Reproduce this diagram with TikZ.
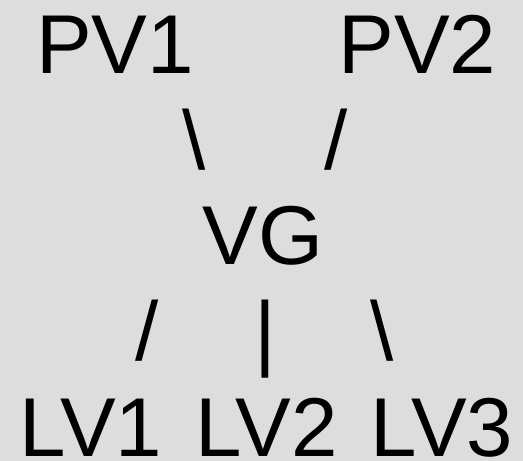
\documentclass[tikz,border=0pt]{standalone}
\usepackage{fontspec}
\setmainfont{Liberation Sans}
\usetikzlibrary{positioning}
\definecolor{bggrey}{HTML}{DDDDDD}

\begin{document}
\begin{tikzpicture}[
    x=1pt,
    y=-1pt,
    var node/.style={inner sep=0pt,anchor=base,font=\fontsize{83.5}{95}\selectfont},
    link node/.style={var node}
]

% Fondo
\fill[bggrey] (0,0) rectangle (523,461);

% Variables padre
\node[var node] (pvone) at (115,73) {PV1};
\node[var node] (pvtwo) at (417.5,73) {PV2};

% Enlaces superiores
\node[link node] (linkpvone) at (194.5,169) {\textbackslash};
\node[link node] (linkpvtwo) at (336.5,169) {/};

% Variable central
\node[var node] (vg) at (263,264) {VG};

% Enlaces inferiores
\node[link node] (linklvone) at (147.5,360.5) {/};
\node[link node] (linklvtwo) at (265.5,360.5) {|};
\node[link node] (linklvthree) at (382.5,360.5) {\textbackslash};

% Variables hijas
\node[var node] (lvone) at (91,456) {LV1};
\node[var node] (lvtwo) at (266.5,456) {LV2};
\node[var node] (lvthree) at (442,456) {LV3};

\end{tikzpicture}
\end{document}
